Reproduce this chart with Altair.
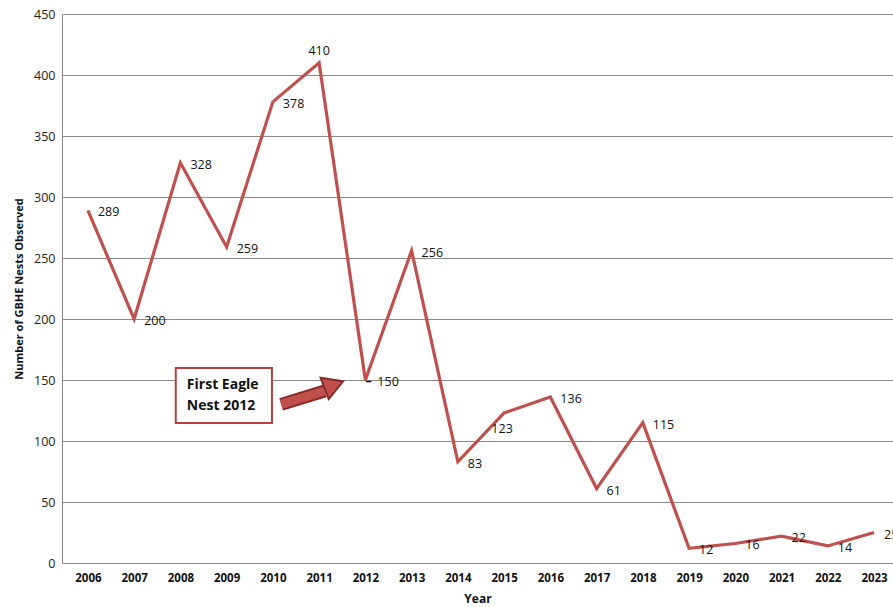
import altair as alt
import pandas as pd

years = [2006, 2007, 2008, 2009, 2010, 2011, 2012, 2013, 2014, 2015, 2016, 2017, 2018, 2019, 2020, 2021, 2022, 2023]
nests = [289, 200, 328, 259, 378, 410, 150, 256, 83, 123, 136, 61, 115, 12, 16, 22, 14, 25]
y_ticks = [0, 50, 100, 150, 200, 250, 300, 350, 400, 450]

annot_text = ["First Eagle", "Nest 2012"]

df = pd.DataFrame({"year": years, "nests": nests})

FONT = "Open Sans"
RED = "#c0504d"
DARKRED = "#8a2a28"

xscale = alt.Scale(domain=[2005.44, 2023.41], nice=False, zero=False)
yscale = alt.Scale(domain=[0, 450], nice=False)

x_enc = alt.X("year:Q", scale=xscale, title="Year",
              axis=alt.Axis(values=years, format="d", labelFontWeight="bold", labelFontSize=11.5,
                            labelFont=FONT, labelColor="#111", labelPadding=9, ticks=False,
                            grid=False, domainColor="#888", titleFont=FONT, titleFontSize=12,
                            titleFontWeight="bold", titleColor="#111", titlePadding=10,
                            labelOverlap=False))
y_enc = alt.Y("nests:Q", scale=yscale, title="Number of GBHE Nests Observed",
              axis=alt.Axis(values=y_ticks, labelFontSize=12.5, labelFont=FONT, labelColor="#222",
                            labelPadding=7, ticks=False, grid=True, gridColor="#8a8a8a",
                            gridWidth=1, domainColor="#888", titleFont=FONT, titleFontSize=11,
                            titleFontWeight="bold", titleColor="#111", titlePadding=9))

base = alt.Chart(df)

line = base.mark_line(color=RED, strokeWidth=3.2, strokeJoin="miter").encode(x=x_enc, y=y_enc)

lbl_style = dict(font=FONT, fontSize=12.5, color="#111", clip=True)

labels_main = base.transform_filter(
    "datum.year != 2011 && datum.year != 2015 && datum.year != 2012"
).mark_text(align="left", baseline="middle", dx=10, dy=2, **lbl_style).encode(
    x="year:Q", y="nests:Q", text="nests:Q")

labels_2011 = base.transform_filter("datum.year == 2011").mark_text(
    align="center", baseline="middle", dx=0, dy=-12, **lbl_style).encode(
    x="year:Q", y="nests:Q", text="nests:Q")

labels_2015 = base.transform_filter("datum.year == 2015").mark_text(
    align="center", baseline="middle", dx=-2, dy=16, **lbl_style).encode(
    x="year:Q", y="nests:Q", text="nests:Q")

labels_2012 = base.transform_filter("datum.year == 2012").mark_text(
    align="left", baseline="middle", dx=12, dy=2, **lbl_style).encode(
    x="year:Q", y="nests:Q", text="nests:Q")

dash_2012 = base.transform_filter("datum.year == 2012").mark_text(
    align="left", baseline="middle", dx=0, dy=1, font=FONT, fontSize=13, fontWeight="bold",
    color="#111").encode(x="year:Q", y="nests:Q", text=alt.value("–"))

# annotation box (data coordinates)
box_df = pd.DataFrame({"x": [2007.90], "x2": [2009.98], "y": [159.8], "y2": [114.8]})
box = alt.Chart(box_df).mark_rect(fill="white", stroke="#b5403d", strokeWidth=2).encode(
    x="x:Q", x2="x2:Q", y="y:Q", y2="y2:Q")

txt_df = pd.DataFrame({"x": [2008.14, 2008.14], "y": [146.0, 128.5], "t": annot_text})
box_text = alt.Chart(txt_df).mark_text(font=FONT, fontSize=14, fontWeight="bold", color="#111",
                                       align="left", baseline="middle").encode(
    x="x:Q", y="y:Q", text="t:N")

# block arrow
shaft_df = pd.DataFrame({"x": [2010.18], "x2": [2011.12], "y": [130.0], "y2": [141.0]})
shaft_outline = alt.Chart(shaft_df).mark_rule(color=DARKRED, strokeWidth=13, strokeCap="butt").encode(
    x="x:Q", x2="x2:Q", y="y:Q", y2="y2:Q")
shaft = alt.Chart(shaft_df).mark_rule(color=RED, strokeWidth=9, strokeCap="butt").encode(
    x="x:Q", x2="x2:Q", y="y:Q", y2="y2:Q")
head_df = pd.DataFrame({"x": [2011.32], "y": [146.0]})
head = alt.Chart(head_df).mark_point(shape="triangle-right", filled=True, fill=RED,
                                     stroke=DARKRED, strokeWidth=2, size=520, angle=339,
                                     opacity=1).encode(x="x:Q", y="y:Q")

chart = alt.layer(line, labels_main, labels_2011, labels_2015, labels_2012, dash_2012,
                  box, box_text, shaft_outline, shaft, head).properties(
    width=831, height=549,
    autosize=alt.AutoSizeParams(type="none"),
    padding={"left": 62, "top": 14, "right": 0, "bottom": 44},
    background="white",
).configure_view(stroke=None)

chart.save("out.html", embed_options={"renderer": "svg", "actions": False})
